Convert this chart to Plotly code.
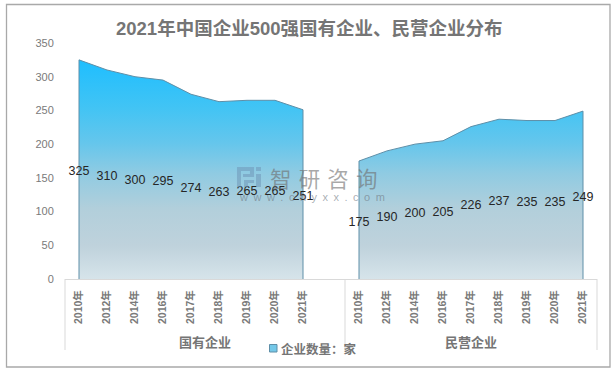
import plotly.graph_objects as go

# Data
title = "2021年中国企业500强国有企业、民营企业分布"
years = ["2010年", "2012年", "2014年", "2016年", "2017年", "2018年", "2019年", "2020年", "2021年"]
group_names = ["国有企业", "民营企业"]
state_owned = [325, 310, 300, 295, 274, 263, 265, 265, 251]
private = [175, 190, 200, 205, 226, 237, 235, 235, 249]
series_name = "企业数量：家"
y_ticks = [0, 50, 100, 150, 200, 250, 300, 350]

W, H = 614, 372
L, R, T, B = 65, 597, 43, 279
LABEL_DROP = 4  # data labels sit slightly under mid-height of the area


def px(x):
    return (x - L) / (R - L)


def py(y):
    return (B - y) / (B - T)


n = len(years)
x_a = list(range(n))
x_b = [i + n + 1 for i in range(n)]

# closed outlines, dropping to the baseline at both ends of each block
xs = [x_a[0]] + x_a + [x_a[-1], None, x_b[0]] + x_b + [x_b[-1]]
ys = [0] + state_owned + [0, None, 0] + private + [0]

fig = go.Figure()
fig.add_trace(go.Scatter(
    x=xs, y=ys, mode="lines", fill="toself", name=series_name, showlegend=False,
    line=dict(color="#5E8FA8", width=1),
    fillgradient=dict(
        type="vertical", start=0, stop=325,
        colorscale=[
            [0.0, "#D6E4EA"], [0.15, "#BFD2DC"], [0.32, "#B2CFDB"],
            [0.48, "#90CBE2"], [0.62, "#65C6EC"], [0.78, "#42C4F4"], [1.0, "#1EBEFF"],
        ],
    ),
))
fig.add_trace(go.Scatter(
    x=x_a + x_b,
    y=[v / 2 - LABEL_DROP for v in state_owned + private],
    text=[str(v) for v in state_owned + private],
    mode="text", textposition="middle center", showlegend=False,
    textfont=dict(family="Liberation Sans, Noto Sans CJK SC", size=12.5, color="#262626"),
))

tick_font = dict(family="Liberation Sans, Noto Sans CJK SC", color="#7A7A7A")
shapes = []
# outer frame
shapes.append(dict(type="rect", xref="paper", yref="paper",
                   x0=px(6.5), x1=px(610), y0=py(367), y1=py(4.5),
                   line=dict(color="#A9A9A9", width=1.3), layer="below"))
# group dividers
for xp in [65, 345, 597]:
    shapes.append(dict(type="line", xref="paper", yref="paper",
                       x0=px(xp), x1=px(xp), y0=py(279), y1=py(350),
                       line=dict(color="#D9D9D9", width=1)))
# legend swatch
shapes.append(dict(type="rect", xref="paper", yref="paper",
                   x0=px(269.5), x1=px(277), y0=py(352), y1=py(344.5),
                   fillcolor="#74C8E8", line=dict(color="#5E8FA8", width=1)))
# watermark logo
logo = "#6F97B8"
for path in [
    [(237, 167), (254, 167), (254, 177), (243, 177), (243, 174), (250, 174), (250, 171), (241, 171), (241, 187), (237, 187)],
    [(244, 180), (254, 180), (254, 183), (248, 183), (248, 187), (244, 187)],
    [(256, 167), (261, 167), (261, 171), (256, 171)],
    [(256, 174), (261, 174), (261, 187), (256, 187)],
]:
    d = "M " + " L ".join(f"{px(a):.4f},{py(b):.4f}" for a, b in path) + " Z"
    shapes.append(dict(type="path", xref="paper", yref="paper", path=d,
                       fillcolor=logo, line=dict(width=0), opacity=0.55))

annotations = [
    dict(text=f"<b>{title}</b>", x=px(309), y=py(29), xanchor="center", yanchor="middle",
         font=dict(family="Liberation Sans, Noto Sans CJK SC", size=18.5, color="#757575")),
    dict(text=f"<b>{group_names[0]}</b>", x=px(205), y=py(341), xanchor="center", yanchor="middle",
         font=dict(family="Noto Sans CJK SC", size=13, color="#757575")),
    dict(text=f"<b>{group_names[1]}</b>", x=px(471), y=py(341), xanchor="center", yanchor="middle",
         font=dict(family="Noto Sans CJK SC", size=13, color="#757575")),
    dict(text=f"<b>{series_name}</b>", x=px(279), y=py(348), xanchor="left", yanchor="middle",
         font=dict(family="Noto Sans CJK SC", size=12.5, color="#757575")),
    dict(text="智\u2004研\u2004咨\u2004询", x=px(268), y=py(177), xanchor="left", yanchor="middle",
         font=dict(family="Noto Sans CJK SC", size=21.5, color="rgba(110,110,110,0.6)")),
    dict(text="\u2002".join("www.chyxx.com"), x=px(237), y=py(197), xanchor="left", yanchor="middle",
         font=dict(family="Liberation Sans", size=11, color="rgba(110,120,130,0.6)")),
]
for a in annotations:
    a.update(xref="paper", yref="paper", showarrow=False, xshift=0, yshift=0)

fig.update_layout(
    width=W, height=H,
    margin=dict(l=L, r=W - R, t=T, b=H - B, pad=0),
    paper_bgcolor="white", plot_bgcolor="white",
    showlegend=False, shapes=shapes, annotations=annotations,
    xaxis=dict(
        range=[-0.5, 2 * n + 0.5], showgrid=False, zeroline=False,
        showline=True, linecolor="#D9D9D9", linewidth=1,
        tickmode="array", tickvals=x_a + x_b,
        ticktext=[f"<b>{y}</b>" for y in years + years], tickangle=-90,
        ticks="outside", ticklen=6, tickcolor="rgba(0,0,0,0)",
        tickfont=dict(size=10.5, **tick_font),
    ),
    yaxis=dict(
        range=[0, 350], showgrid=False, zeroline=False, showline=False,
        tickmode="array", tickvals=y_ticks,
        ticks="outside", ticklen=8, tickcolor="rgba(0,0,0,0)",
        tickfont=dict(size=11, **tick_font),
    ),
)

fig.write_html("out.html", config=dict(displayModeBar=False),
               post_script="document.body.style.margin='0';")
